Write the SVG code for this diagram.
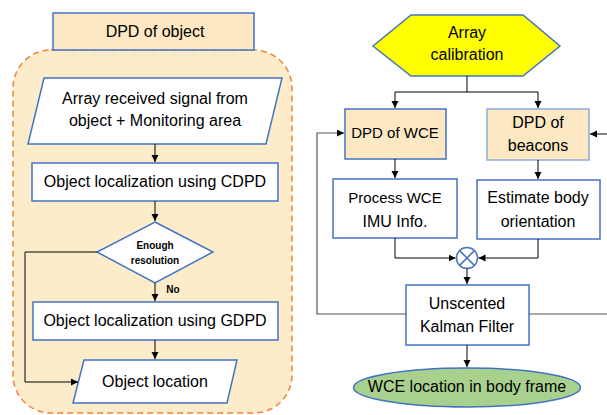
<svg xmlns="http://www.w3.org/2000/svg" width="607" height="415" viewBox="0 0 607 415">
<defs>
<marker id="ah" markerUnits="userSpaceOnUse" markerWidth="8" markerHeight="8" refX="7" refY="3.5" orient="auto">
<path d="M0,0 L7,3.5 L0,7 z" fill="#000"/>
</marker>
<style>
.t{font-family:"Liberation Sans",Arial,sans-serif;font-size:16px;fill:#000;text-anchor:middle}
.n{font-size:15px}
.b{font-family:"Liberation Sans",Arial,sans-serif;font-size:10px;font-weight:bold;fill:#000;text-anchor:middle}
.s{stroke:#4472c4;stroke-width:1.5}
.w{fill:#fff}
.o{fill:#fce8c3}
.c{fill:none;stroke:#000;stroke-width:1}
.g{fill:none;stroke:#555;stroke-width:1.2}
</style>
</defs>
<rect width="607" height="415" fill="#fff"/>
<g id="container">
<rect x="13" y="50" width="279" height="363" rx="38" ry="38" fill="#fdecca" stroke="#f4823a" stroke-width="1.5" stroke-dasharray="6 4"/>
</g>
<g id="dpd-object">
<rect class="s o" x="53" y="13" width="201" height="37"/>
<text class="t" x="155" y="37">DPD of object</text>
</g>
<g id="array-received">
<polygon class="s w" points="44,78 282,78 266,144 28,144"/>
<text class="t" x="155" y="104">Array received signal from</text>
<text class="t" x="155" y="126">object + Monitoring area</text>
</g>
<g id="cdpd">
<rect class="s w" x="32" y="163" width="246" height="38"/>
<text class="t" x="155" y="187">Object localization using CDPD</text>
</g>
<g id="decision">
<polygon class="s w" points="155,222 213,252 155,283 97,252"/>
<text class="b" x="155" y="249">Enough</text>
<text class="b" x="155" y="264">resolution</text>
</g>
<g id="gdpd">
<rect class="s w" x="33" y="302" width="245" height="38"/>
<text class="t" x="155" y="326">Object localization using GDPD</text>
</g>
<g id="object-location">
<polygon class="s w" points="84,360 237,360 227,403 73,403"/>
<text class="t" x="155" y="387">Object location</text>
</g>
<g id="array-calibration">
<polygon class="s" fill="#ffff00" points="373,46 411,15 523,15 560,46 523,76 411,76"/>
<text class="t" x="467" y="38">Array</text>
<text class="t" x="467" y="60">calibration</text>
</g>
<g id="dpd-wce">
<rect class="s o" x="345" y="109" width="101" height="50"/>
<text class="t n" x="395" y="138">DPD of WCE</text>
</g>
<g id="dpd-beacons">
<rect class="o" stroke="#8eaadb" stroke-width="1.5" x="487" y="109" width="102" height="51"/>
<text class="t" x="538" y="128">DPD of</text>
<text class="t" x="538" y="151">beacons</text>
</g>
<g id="process-imu">
<rect class="s w" x="333" y="179" width="124" height="59"/>
<text class="t n" x="395" y="203">Process WCE</text>
<text class="t" x="395" y="227">IMU Info.</text>
</g>
<g id="estimate-orientation">
<rect class="s w" x="477" y="180" width="123" height="59"/>
<text class="t" x="538" y="203">Estimate body</text>
<text class="t" x="538" y="227">orientation</text>
</g>
<g id="multiplier">
<circle class="s w" cx="467" cy="258" r="10.5"/>
<path class="s" d="M459.6,250.6 L474.4,265.4 M474.4,250.6 L459.6,265.4" fill="none"/>
</g>
<g id="ukf">
<rect class="s w" x="406" y="285" width="123" height="60"/>
<text class="t" x="467" y="309">Unscented</text>
<text class="t" x="467" y="332">Kalman Filter</text>
</g>
<g id="wce-location">
<ellipse class="s" fill="#a9d18e" cx="467" cy="387.5" rx="113.5" ry="19.5"/>
<text class="t" x="467" y="392">WCE location in body frame</text>
</g>
<g id="connectors">
<path class="c" d="M155,144 V162" marker-end="url(#ah)"/>
<path class="c" d="M155,201 V221" marker-end="url(#ah)"/>
<path class="c" d="M155,283 V301" marker-end="url(#ah)"/>
<path class="c" d="M155,340 V359" marker-end="url(#ah)"/>
<path class="c" d="M97,252 H25 V382 H78" marker-end="url(#ah)"/>
<text class="b" x="173" y="293">No</text>
<path class="c" d="M467,76 V92 H395 V108" marker-end="url(#ah)"/>
<path class="c" d="M467,92 H538 V108" marker-end="url(#ah)"/>
<path class="c" d="M395,159 V178" marker-end="url(#ah)"/>
<path class="c" d="M538,160 V179" marker-end="url(#ah)"/>
<path class="c" d="M395,238 V258 H455.5" marker-end="url(#ah)"/>
<path class="c" d="M538,239 V258 H478.5" marker-end="url(#ah)"/>
<path class="c" d="M467,268.5 V284" marker-end="url(#ah)"/>
<path class="c" d="M467,345 V367" marker-end="url(#ah)"/>
<path class="g" d="M406,314 H317 V133 H344" marker-end="url(#ah)"/>
<path class="g" d="M529,314 H610"/>
<path class="c" d="M610,134 H590" marker-end="url(#ah)"/>
</g>
</svg>
